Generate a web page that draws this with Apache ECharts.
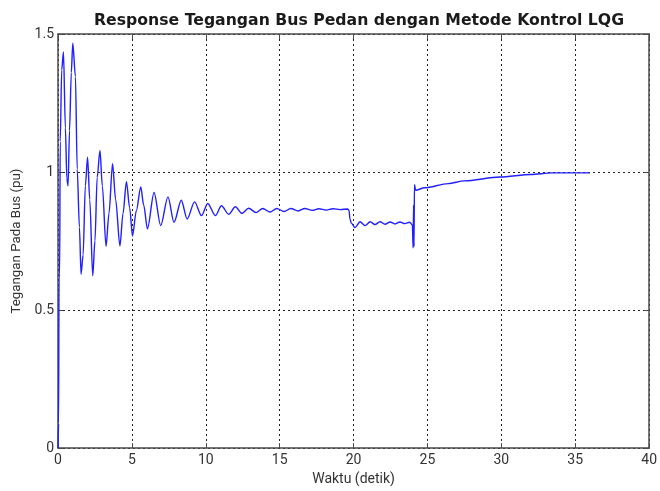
<!DOCTYPE html>
<html>
<head>
<meta charset="utf-8">
<script src="https://cdn.jsdelivr.net/npm/echarts@6/dist/echarts.min.js"></script>
<style>
html,body{margin:0;padding:0;background:#fff;}
#chart{width:660px;height:491px;}
</style>
</head>
<body>
<div id="chart"></div>
<script>
// Time (detik) and voltage (pu)
var waktu = [
  0, 0.04, 0.07, 0.11, 0.15, 0.25, 0.37, 0.5, 0.6, 0.68, 0.78, 0.9, 1.0, 1.18, 1.3, 1.45, 1.56, 1.7, 1.85, 2.0,
  2.15, 2.35, 2.5, 2.65, 2.84, 3.0, 3.25, 3.45, 3.69, 3.9, 4.19, 4.4, 4.63, 4.85, 5.04, 5.3, 5.6, 5.8, 6.05, 6.5,
  6.95, 7.44, 7.85, 8.34, 8.74, 9.24, 9.71, 10.13, 10.65, 11.06, 11.55, 12.0, 12.45, 12.9, 13.4, 13.85, 14.35, 14.8, 15.3, 15.75,
  16.25, 16.7, 17.2, 17.65, 18.15, 18.6, 19.1, 19.6, 19.7, 19.75, 19.85, 20.1, 20.44, 20.78, 21.12, 21.45, 21.79, 22.13, 22.47, 22.8,
  23.14, 23.47, 23.8, 23.98, 24.03, 24.06, 24.09, 24.12, 24.2, 24.8, 26.4, 27.5, 29.9, 32.0, 33.4, 36.0
];
var tegangan = [
  0, 0.09, 0.62, 0.63, 1.11, 1.37, 1.435, 1.16, 0.976, 0.95, 1.15, 1.36, 1.467, 1.346, 1.01, 0.8, 0.63, 0.7, 0.95, 1.054,
  0.9, 0.624, 0.75, 0.98, 1.078, 0.95, 0.731, 0.85, 1.03, 0.9, 0.732, 0.85, 0.965, 0.87, 0.768, 0.86, 0.946, 0.88, 0.794, 0.926,
  0.806, 0.91, 0.818, 0.898, 0.83, 0.892, 0.842, 0.886, 0.842, 0.878, 0.847, 0.874, 0.85, 0.869, 0.853, 0.868, 0.855, 0.868, 0.857, 0.868,
  0.859, 0.868, 0.861, 0.867, 0.862, 0.867, 0.864, 0.866, 0.86, 0.83, 0.815, 0.799, 0.82, 0.806, 0.82, 0.81, 0.82, 0.811, 0.819, 0.812,
  0.819, 0.813, 0.818, 0.808, 0.725, 0.88, 0.73, 0.955, 0.934, 0.943, 0.958, 0.968, 0.982, 0.991, 0.997, 0.997
];
var xTicks = [0, 5, 10, 15, 20, 25, 30, 35, 40];
var yTicks = [0, 0.5, 1, 1.5];
var judul = 'Response Tegangan Bus Pedan dengan Metode Kontrol LQG';
var namaX = 'Waktu (detik)';
var namaY = 'Tegangan Pada Bus (pu)';

var data = waktu.map(function (t, i) { return [t, tegangan[i]]; });
var chart = echarts.init(document.getElementById('chart'), null, {renderer: 'canvas'});
var frameColor = '#4a4a4a';
var gridLine = {show: true, lineStyle: {color: '#222', width: 1, type: [2, 3]}};
var font = 'Roboto, "Liberation Sans", sans-serif';
chart.setOption({
  animation: false,
  backgroundColor: '#ffffff',
  title: {
    text: judul, left: 354, top: 8, textAlign: 'center',
    textStyle: {fontFamily: '"DejaVu Sans", sans-serif', fontWeight: 'bold', fontSize: 15.7, color: '#1a1a1a'}
  },
  grid: {left: 58, right: 8, top: 34, bottom: 39, containLabel: false},
  xAxis: [{
    type: 'value', min: xTicks[0], max: xTicks[xTicks.length - 1], interval: 5,
    name: namaX, nameLocation: 'middle', nameGap: 23,
    nameTextStyle: {fontFamily: font, fontSize: 14, color: '#333'},
    axisLine: {show: true, onZero: false, lineStyle: {color: frameColor, width: 1.5}},
    axisTick: {show: true, inside: true, length: 5, lineStyle: {color: frameColor}},
    axisLabel: {fontFamily: font, fontSize: 14, color: '#333', margin: 5},
    splitLine: gridLine
  }, {
    type: 'value', position: 'top', min: xTicks[0], max: xTicks[xTicks.length - 1], interval: 5,
    axisLine: {show: true, onZero: false, lineStyle: {color: frameColor, width: 1.5}},
    axisTick: {show: true, inside: true, length: 5, lineStyle: {color: frameColor}},
    axisLabel: {show: false}, splitLine: {show: false}
  }],
  yAxis: [{
    type: 'value', min: yTicks[0], max: yTicks[yTicks.length - 1], interval: 0.5,
    name: namaY, nameLocation: 'middle', nameGap: 34,
    nameTextStyle: {fontFamily: font, fontSize: 13.3, color: '#333'},
    axisLine: {show: true, onZero: false, lineStyle: {color: frameColor, width: 1.5}},
    axisTick: {show: true, inside: true, length: 5, lineStyle: {color: frameColor}},
    axisLabel: {fontFamily: font, fontSize: 14, color: '#333', margin: 4,
      formatter: function (v) { return String(v); }},
    splitLine: gridLine
  }, {
    type: 'value', position: 'right', min: yTicks[0], max: yTicks[yTicks.length - 1], interval: 0.5,
    axisLine: {show: true, onZero: false, lineStyle: {color: frameColor, width: 1.5}},
    axisTick: {show: true, inside: true, length: 5, lineStyle: {color: frameColor}},
    axisLabel: {show: false}, splitLine: {show: false}
  }],
  series: [{
    type: 'line', data: data, xAxisIndex: 0, yAxisIndex: 0,
    showSymbol: false, smooth: 0.3, smoothMonotone: 'x',
    lineStyle: {color: '#2020ff', width: 1.4}
  }]
});
</script>
</body>
</html>
